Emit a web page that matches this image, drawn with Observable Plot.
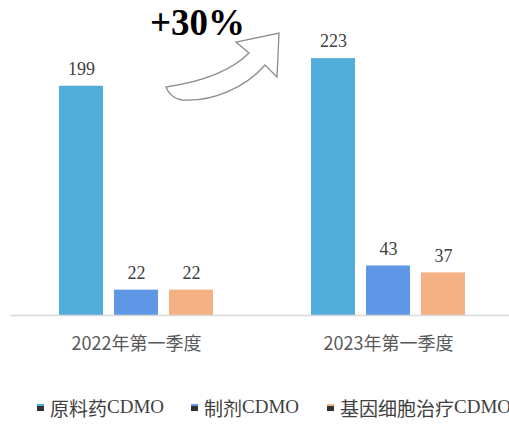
<!DOCTYPE html>
<html>
<head>
<meta charset="utf-8">
<script src="https://cdn.jsdelivr.net/npm/d3@7"></script>
<script src="https://cdn.jsdelivr.net/npm/@observablehq/plot@0.6"></script>
<style>
  body { margin: 0; background: #fff; width: 509px; height: 425px; overflow: hidden; position: relative; }
  #chart { position: absolute; left: 0; top: 0; }
  #legend { position: absolute; left: 0; top: 395px; width: 600px; white-space: nowrap; font-size: 19px; color: #404040; }
  .item { position: absolute; top: 0; display: flex; align-items: center; height: 24px; }
  .sw { width: 7px; height: 5px; background: #333; border-top: 2px solid; margin-right: 6px; }
  .cjk { font-family: "Noto Sans CJK SC", sans-serif; }
  .lat { font-family: "Liberation Serif", serif; }
  #growth { position: absolute; left: 150px; top: 3px; font: bold 37px/40px "Liberation Serif", serif; color: #000; }
</style>
</head>
<body>
<div id="chart"></div>
<div id="legend"></div>
<script>
const quarters = ["2022年第一季度", "2023年第一季度"];
const segments = ["原料药CDMO", "制剂CDMO", "基因细胞治疗CDMO"];
const values2022 = [199, 22, 22];
const values2023 = [223, 43, 37];
const colors = ["#52ADDB", "#5F96E6", "#F4B183"];
const legendX = [37, 191, 327];
const growthLabel = "+30%";

const rows = [];
[values2022, values2023].forEach((vals, qi) => {
  vals.forEach((v, si) => rows.push({quarter: quarters[qi], segment: segments[si], value: v}));
});

const plot = Plot.plot({
  width: 509,
  height: 370,
  marginTop: 27,
  marginBottom: 55,
  marginLeft: 10,
  marginRight: -5,
  fx: {domain: quarters, padding: 0, label: null},
  x: {domain: segments, paddingInner: 0.207, paddingOuter: 0.874, axis: null},
  y: {domain: [0, 250], axis: null},
  color: {domain: segments, range: colors},
  marks: [
    Plot.barY(rows, {fx: "quarter", x: "segment", y: "value", fill: "segment"}),
    Plot.text(rows, {fx: "quarter", x: "segment", y: "value", text: d => String(d.value), dy: -17,
      fontFamily: "Liberation Serif", fontSize: 18, fill: "#404040"}),
    Plot.axisFx({anchor: "bottom", tickSize: 0, tickPadding: 22, fontSize: 18,
      fontFamily: "Noto Sans CJK SC", color: "#595959", label: null}),
    Plot.ruleY([0], {stroke: "#d9d9d9", strokeWidth: 1.5})
  ]
});
document.getElementById("chart").appendChild(plot);

// hollow curved block arrow annotation
const svg = d3.select(plot);
svg.append("path")
  .attr("d", "M166,87 C200,82 230,72 249,53 L236,42 L279,33 L277,77 L265,65 C245,88 212,102 182,100 C174,99 168,93 166,87 Z")
  .attr("fill", "#fff")
  .attr("stroke", "#8c8c8c")
  .attr("stroke-width", 1.3);

const g = document.createElement("div");
g.id = "growth";
g.textContent = growthLabel;
document.body.appendChild(g);

const lg = document.getElementById("legend");
segments.forEach((s, i) => {
  const m = s.match(/^(.*?)(CDMO)$/);
  const it = document.createElement("div");
  it.className = "item";
  it.style.left = legendX[i] + "px";
  it.innerHTML = `<span class="sw" style="border-color:${colors[i]}"></span><span class="cjk">${m[1]}</span><span class="lat">${m[2]}</span>`;
  lg.appendChild(it);
});
</script>
</body>
</html>
